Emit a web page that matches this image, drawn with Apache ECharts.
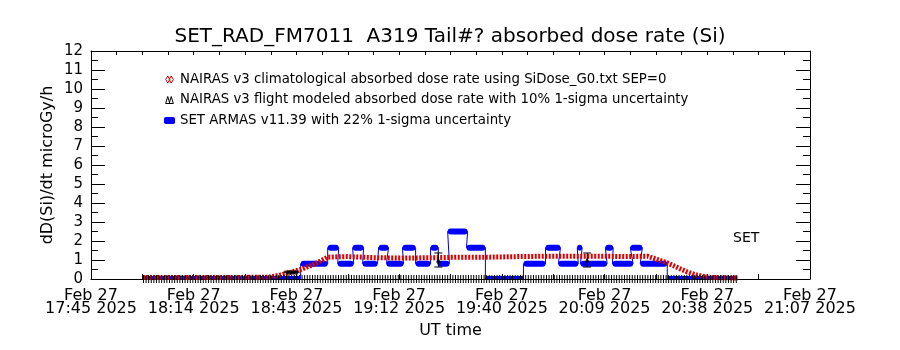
<!DOCTYPE html>
<html>
<head>
<meta charset="utf-8">
<title>SET_RAD_FM7011 A319 absorbed dose rate</title>
<script src="https://cdn.jsdelivr.net/npm/echarts@6/dist/echarts.min.js"></script>
<style>
  html, body { margin: 0; padding: 0; background: #fff; }
  #chart { width: 900px; height: 350px; }
</style>
</head>
<body>
<div id="chart"></div>
<script>
// x values are minutes after 17:45 UT, Feb 27 2025
const SPAN = 202; // 17:45 -> 21:07
const tickTimes = ['17:45', '18:14', '18:43', '19:12', '19:40', '20:09', '20:38', '21:07'];
const tickDate = 'Feb 27';
const tickYear = '2025';

// NAIRAS v3 climatological
const climTime = [14.6, 20, 30, 40, 50.5, 53.3, 56.1, 58.9, 63, 66.5, 72, 80, 88, 96, 104, 112, 120, 128, 136, 144, 150, 156.3, 161.9, 167.5, 170.3, 173.9, 181.8];
const climValue = [0.08, 0.08, 0.08, 0.08, 0.1, 0.22, 0.35, 0.5, 0.8, 1.15, 1.18, 1.12, 1.1, 1.12, 1.15, 1.15, 1.18, 1.2, 1.2, 1.2, 1.18, 1.2, 0.85, 0.37, 0.2, 0.08, 0.05];

// NAIRAS v3 flight modeled (mostly zero)
const fltZeroTime = [14.6, 181.5];
const fltTime = [55.3, 56.4, 57.5, 97.6, 139.4];
const fltValue = [0.37, 0.37, 0.37, 1.0, 1.0];
const fltLow = [0.33, 0.33, 0.33, 0.63, 0.63];
const fltHigh = [0.41, 0.41, 0.41, 1.37, 1.37];

// SET ARMAS v11.39 plateaus
const armasStart = [14.6, 58.9, 66.5, 69.3, 73.5, 76.3, 80.8, 83.0, 87.5, 91.2, 95.4, 97.4, 100.2, 105.5, 110.8, 121.5, 127.7, 131.3, 136.6, 137.5, 144.5, 146.5, 151.5, 154.3, 161.9];
const armasEnd = [58.9, 66.5, 69.6, 73.8, 76.6, 80.5, 83.6, 87.8, 91.2, 95.4, 97.6, 100.7, 105.8, 110.8, 121.5, 127.7, 131.9, 136.9, 138.0, 145.0, 146.7, 152.3, 154.9, 161.9, 181.5];
const armasValue = [0, 0.8, 1.65, 0.8, 1.65, 0.8, 1.65, 0.8, 1.65, 0.8, 1.65, 0.8, 2.5, 1.65, 0, 0.8, 1.65, 0.8, 1.65, 0.8, 1.65, 0.8, 1.65, 0.8, 0];

const nameClim = 'NAIRAS v3 climatological absorbed dose rate using SiDose_G0.txt SEP=0';
const nameFlt = 'NAIRAS v3 flight modeled absorbed dose rate with 10% 1-sigma uncertainty';
const nameArmas = 'SET ARMAS v11.39 with 22% 1-sigma uncertainty';

const font = 'DejaVu Sans';
const step = SPAN / (tickTimes.length - 1);
const majorTicks = tickTimes.map((t, i) => i * step);
const halfTicks = [];
const quarterTicks = [];
for (let i = 0; i <= (tickTimes.length - 1) * 4; i++) {
  quarterTicks.push(i * step / 4);
  if (i % 2 === 0) halfTicks.push(i * step / 4);
}

const armasLine = [];
armasStart.forEach((s, i) => {
  armasLine.push([s, armasValue[i]], [armasEnd[i], armasValue[i]]);
});

const chart = echarts.init(document.getElementById('chart'));

const option = {
  animation: false,
  backgroundColor: '#fff',
  textStyle: { fontFamily: font, color: '#000' },
  title: {
    text: 'SET_RAD_FM7011  A319 Tail#? absorbed dose rate (Si)',
    left: 'center',
    top: 22,
    textStyle: { fontFamily: font, fontSize: 20, fontWeight: 'normal', color: '#000' }
  },
  legend: {
    orient: 'vertical',
    left: 159,
    top: 68,
    itemWidth: 11,
    itemHeight: 7,
    itemGap: 7.5,
    selectedMode: false,
    textStyle: { fontFamily: font, fontSize: 13.3, color: '#000' },
    data: [
      {
        name: nameClim,
        icon: 'path://M0,5L3,0L6,5L3,10Z M5,5L8,0L11,5L8,10Z',
        itemStyle: { color: 'transparent', borderColor: '#d00000', borderWidth: 1 }
      },
      {
        name: nameFlt,
        icon: 'path://M0,10L3,0L6,10Z M5,10L8,0L11,10Z',
        itemStyle: { color: 'transparent', borderColor: '#000', borderWidth: 1 }
      },
      {
        name: nameArmas,
        icon: 'roundRect',
        itemStyle: { color: '#0000ff', borderWidth: 0 }
      }
    ]
  },
  graphic: [
    { type: 'text', left: 733, top: 231, style: { text: 'SET', font: '14px "DejaVu Sans"', fill: '#000' } }
  ],
  grid: { left: 91, right: 90, top: 51, bottom: 71, outerBoundsMode: 'none' },
  xAxis: [
    {
      type: 'value',
      min: 0,
      max: SPAN,
      name: 'UT time',
      nameLocation: 'middle',
      nameGap: 44,
      nameMoveOverlap: false,
      nameTextStyle: { fontFamily: font, fontSize: 16, color: '#000' },
      axisLine: { onZero: false, lineStyle: { color: '#000', width: 1 } },
      axisTick: { inside: true, length: 5, customValues: halfTicks, lineStyle: { color: '#000' } },
      axisLabel: {
        customValues: majorTicks,
        margin: 10,
        fontFamily: font,
        fontSize: 16,
        lineHeight: 13.5,
        color: '#000',
        formatter: (v) => tickDate + '\n' + tickTimes[Math.round(v / step)] + ' ' + tickYear
      },
      splitLine: { show: false }
    },
    {
      type: 'value',
      position: 'top',
      min: 0,
      max: SPAN,
      axisLine: { onZero: false, lineStyle: { color: '#000', width: 1 } },
      axisTick: { inside: true, length: 4, customValues: quarterTicks, lineStyle: { color: '#000' } },
      axisLabel: { show: false },
      splitLine: { show: false }
    }
  ],
  yAxis: [
    {
      type: 'value',
      min: 0,
      max: 12,
      interval: 1,
      name: 'dD(Si)/dt microGy/h',
      nameLocation: 'middle',
      nameGap: 35,
      nameMoveOverlap: false,
      nameTextStyle: { fontFamily: font, fontSize: 16, color: '#000' },
      axisLine: { show: true, onZero: false, lineStyle: { color: '#000', width: 1 } },
      axisTick: { inside: true, length: 14, lineStyle: { color: '#000' } },
      minorTick: { show: true, splitNumber: 2, length: 7, lineStyle: { color: '#000' } },
      axisLabel: { margin: 8, fontFamily: font, fontSize: 15, color: '#000' },
      splitLine: { show: false }
    },
    {
      type: 'value',
      position: 'right',
      min: 0,
      max: 12,
      interval: 1,
      axisLine: { show: true, onZero: false, lineStyle: { color: '#000', width: 1 } },
      axisTick: { inside: true, length: 14, lineStyle: { color: '#000' } },
      minorTick: { show: true, splitNumber: 2, length: 7, lineStyle: { color: '#000' } },
      axisLabel: { show: false },
      splitLine: { show: false }
    }
  ],
  series: [
    {
      name: nameArmas,
      type: 'line',
      data: armasLine,
      symbol: 'none',
      lineStyle: { color: '#0000cc', width: 1 },
      itemStyle: { color: '#0000ff' },
      z: 2
    },
    {
      name: nameArmas,
      type: 'custom',
      data: armasStart.map((s, i) => [s, armasEnd[i], armasValue[i]]),
      renderItem: (params, api) => {
        const a = api.coord([api.value(0), api.value(2)]);
        const b = api.coord([api.value(1), api.value(2)]);
        const rect = echarts.graphic.clipRectByRect(
          { x: a[0], y: a[1] - 3, width: b[0] - a[0], height: 6 },
          params.coordSys
        );
        return rect && { type: 'rect', shape: Object.assign({ r: 3 }, rect), style: { fill: '#0000ff' } };
      },
      itemStyle: { color: '#0000ff' },
      z: 3
    },
    {
      name: nameClim,
      type: 'line',
      data: climTime.map((t, i) => [t, climValue[i]]),
      symbol: 'none',
      lineStyle: { color: '#dd0000', width: 5, type: [2, 1.5] },
      itemStyle: { color: '#dd0000' },
      z: 4
    },
    {
      name: nameFlt,
      type: 'line',
      data: fltZeroTime.map((t) => [t, 0]),
      symbol: 'none',
      lineStyle: { color: '#000', width: 8, type: [1, 1.6] },
      itemStyle: { color: '#000' },
      z: 5
    },
    {
      name: nameFlt,
      type: 'scatter',
      data: fltTime.map((t, i) => [t, fltValue[i]]),
      symbol: 'triangle',
      symbolSize: 5,
      itemStyle: { color: '#000' },
      z: 6
    },
    {
      name: nameFlt,
      type: 'custom',
      data: fltTime.map((t, i) => [t, fltLow[i], fltHigh[i]]),
      renderItem: (params, api) => {
        const lo = api.coord([api.value(0), api.value(1)]);
        const hi = api.coord([api.value(0), api.value(2)]);
        const style = { stroke: '#000', lineWidth: 1 };
        return {
          type: 'group',
          children: [
            { type: 'line', shape: { x1: lo[0], y1: lo[1], x2: hi[0], y2: hi[1] }, style },
            { type: 'line', shape: { x1: lo[0] - 4, y1: lo[1], x2: lo[0] + 4, y2: lo[1] }, style },
            { type: 'line', shape: { x1: hi[0] - 4, y1: hi[1], x2: hi[0] + 4, y2: hi[1] }, style }
          ]
        };
      },
      z: 6
    }
  ]
};

chart.setOption(option);
</script>
</body>
</html>
